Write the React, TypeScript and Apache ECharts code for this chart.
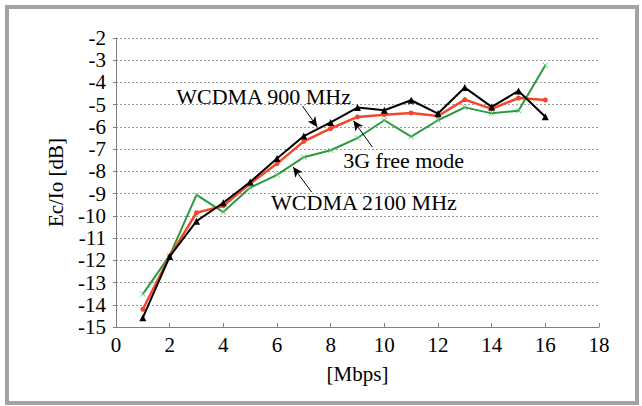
import React, { useEffect, useRef } from "react";
import * as echarts from "echarts";

const rates = [1, 2, 3, 4, 5, 6, 7, 8, 9, 10, 11, 12, 13, 14, 15, 16];
const wcdma900 = [-14.58, -11.83, -10.24, -9.41, -8.48, -7.42, -6.41, -5.8, -5.13, -5.25, -4.8, -5.4, -4.23, -5.1, -4.38, -5.54];
const freeMode = [-14.2, -11.83, -9.86, -9.55, -8.55, -7.65, -6.65, -6.07, -5.55, -5.45, -5.37, -5.51, -4.77, -5.19, -4.7, -4.79];
const wcdma2100 = [-13.52, -11.79, -9.06, -9.83, -8.73, -8.16, -7.36, -7.05, -6.5, -5.7, -6.44, -5.7, -5.12, -5.39, -5.27, -3.23];

const seriesNames = ["WCDMA 900 MHz", "3G free mode", "WCDMA 2100 MHz"];
const xTickLabels = ["0", "2", "4", "6", "8", "10", "12", "14", "16", "18"];

// annotation arrows: [from, to] in data coordinates
const arrow900 = [[6.95, -5.06], [7.5, -6.0]];
const arrowFree = [[9.55, -6.9], [8.85, -5.72]];
const arrow2100 = [[7.29, -8.93], [6.6, -7.8]];
// label anchors (data coordinates, centre of text)
const label900 = [5.5, -4.61];
const labelFree = [10.72, -7.49];
const label2100 = [9.24, -9.42];

const FONT = "Liberation Serif";

function arrowLine(pts: number[][]) {
  return [
    { coord: pts[0], symbol: "none" },
    { coord: pts[1], symbol: "arrow" },
  ];
}

export default function App() {
  const ref = useRef<HTMLDivElement>(null);
  useEffect(() => {
    if (!ref.current) return;
    const chart = echarts.init(ref.current, undefined, { renderer: "svg" });
    const mk = (x: number[], y: number[]) => x.map((v, i) => [v, y[i]]);
    const arrowMark = (pts: number[][]) => ({
      silent: true,
      symbolSize: [7, 10],
      lineStyle: { color: "#000", width: 1, type: "solid" },
      label: { show: false },
      data: [arrowLine(pts)],
    });
    const textMark = (pos: number[], text: string) => ({
      silent: true,
      symbol: "circle",
      symbolSize: 0,
      label: {
        show: true,
        formatter: text,
        position: "inside",
        fontFamily: FONT,
        fontSize: 22,
        color: "#000",
      },
      data: [{ coord: pos }],
    });
    chart.setOption({
      animation: false,
      backgroundColor: "#fff",
      grid: { left: 116, right: 43, top: 38, bottom: 79 },
      graphic: [
        {
          type: "rect",
          shape: { x: 7, y: 7, width: 630, height: 396 },
          style: { fill: "none", stroke: "#a3a3a3", lineWidth: 4 },
          z: 0,
        },
      ],
      xAxis: {
        type: "value",
        min: 0,
        max: 18,
        interval: 2,
        name: "[Mbps]",
        nameLocation: "middle",
        nameGap: 36,
        nameTextStyle: { fontFamily: FONT, fontSize: 21, color: "#000" },
        axisLine: { show: true, lineStyle: { color: "#808080", width: 1 } },
        axisTick: { show: true, inside: true, length: 4, lineStyle: { color: "#808080" } },
        axisLabel: {
          fontFamily: FONT,
          fontSize: 21,
          color: "#000",
          margin: 7,
          formatter: (v: number) => xTickLabels[Math.round(v / 2)] ?? String(v),
        },
        splitLine: { show: false },
      },
      yAxis: {
        type: "value",
        min: -15,
        max: -2,
        interval: 1,
        name: "Ec/Io [dB]",
        nameLocation: "middle",
        nameGap: 50,
        nameTextStyle: { fontFamily: FONT, fontSize: 21, color: "#000" },
        axisLine: { show: true, lineStyle: { color: "#808080", width: 1 } },
        axisTick: { show: true, length: 3, lineStyle: { color: "#808080" } },
        axisLabel: { fontFamily: FONT, fontSize: 21, color: "#000", margin: 10 },
        splitLine: { show: true, lineStyle: { color: "#9a9a9a", type: [2, 2], width: 1 } },
      },
      series: [
        {
          name: seriesNames[1],
          type: "line",
          data: mk(rates, freeMode),
          symbol: "circle",
          symbolSize: 5,
          lineStyle: { color: "#f5452a", width: 2.5 },
          itemStyle: { color: "#f5452a" },
          z: 3,
          markLine: arrowMark(arrowFree),
          markPoint: textMark(labelFree, seriesNames[1]),
        },
        {
          name: seriesNames[2],
          type: "line",
          data: mk(rates, wcdma2100),
          symbol: "path://M0,0L10,10M10,0L0,10",
          symbolSize: 5,
          lineStyle: { color: "#2a9a40", width: 2 },
          itemStyle: { color: "#5fc070", borderColor: "#5fc070", borderWidth: 1 },
          z: 2,
          markLine: arrowMark(arrow2100),
          markPoint: textMark(label2100, seriesNames[2]),
        },
        {
          name: seriesNames[0],
          type: "line",
          data: mk(rates, wcdma900),
          symbol: "triangle",
          symbolSize: 7,
          lineStyle: { color: "#000", width: 2 },
          itemStyle: { color: "#000" },
          z: 4,
          markLine: arrowMark(arrow900),
          markPoint: textMark(label900, seriesNames[0]),
        },
      ],
    });
    return () => chart.dispose();
  }, []);
  return (
    <div
      ref={ref}
      style={{ width: 642, height: 406, position: "absolute", left: 0, top: 0 }}
    />
  );
}
